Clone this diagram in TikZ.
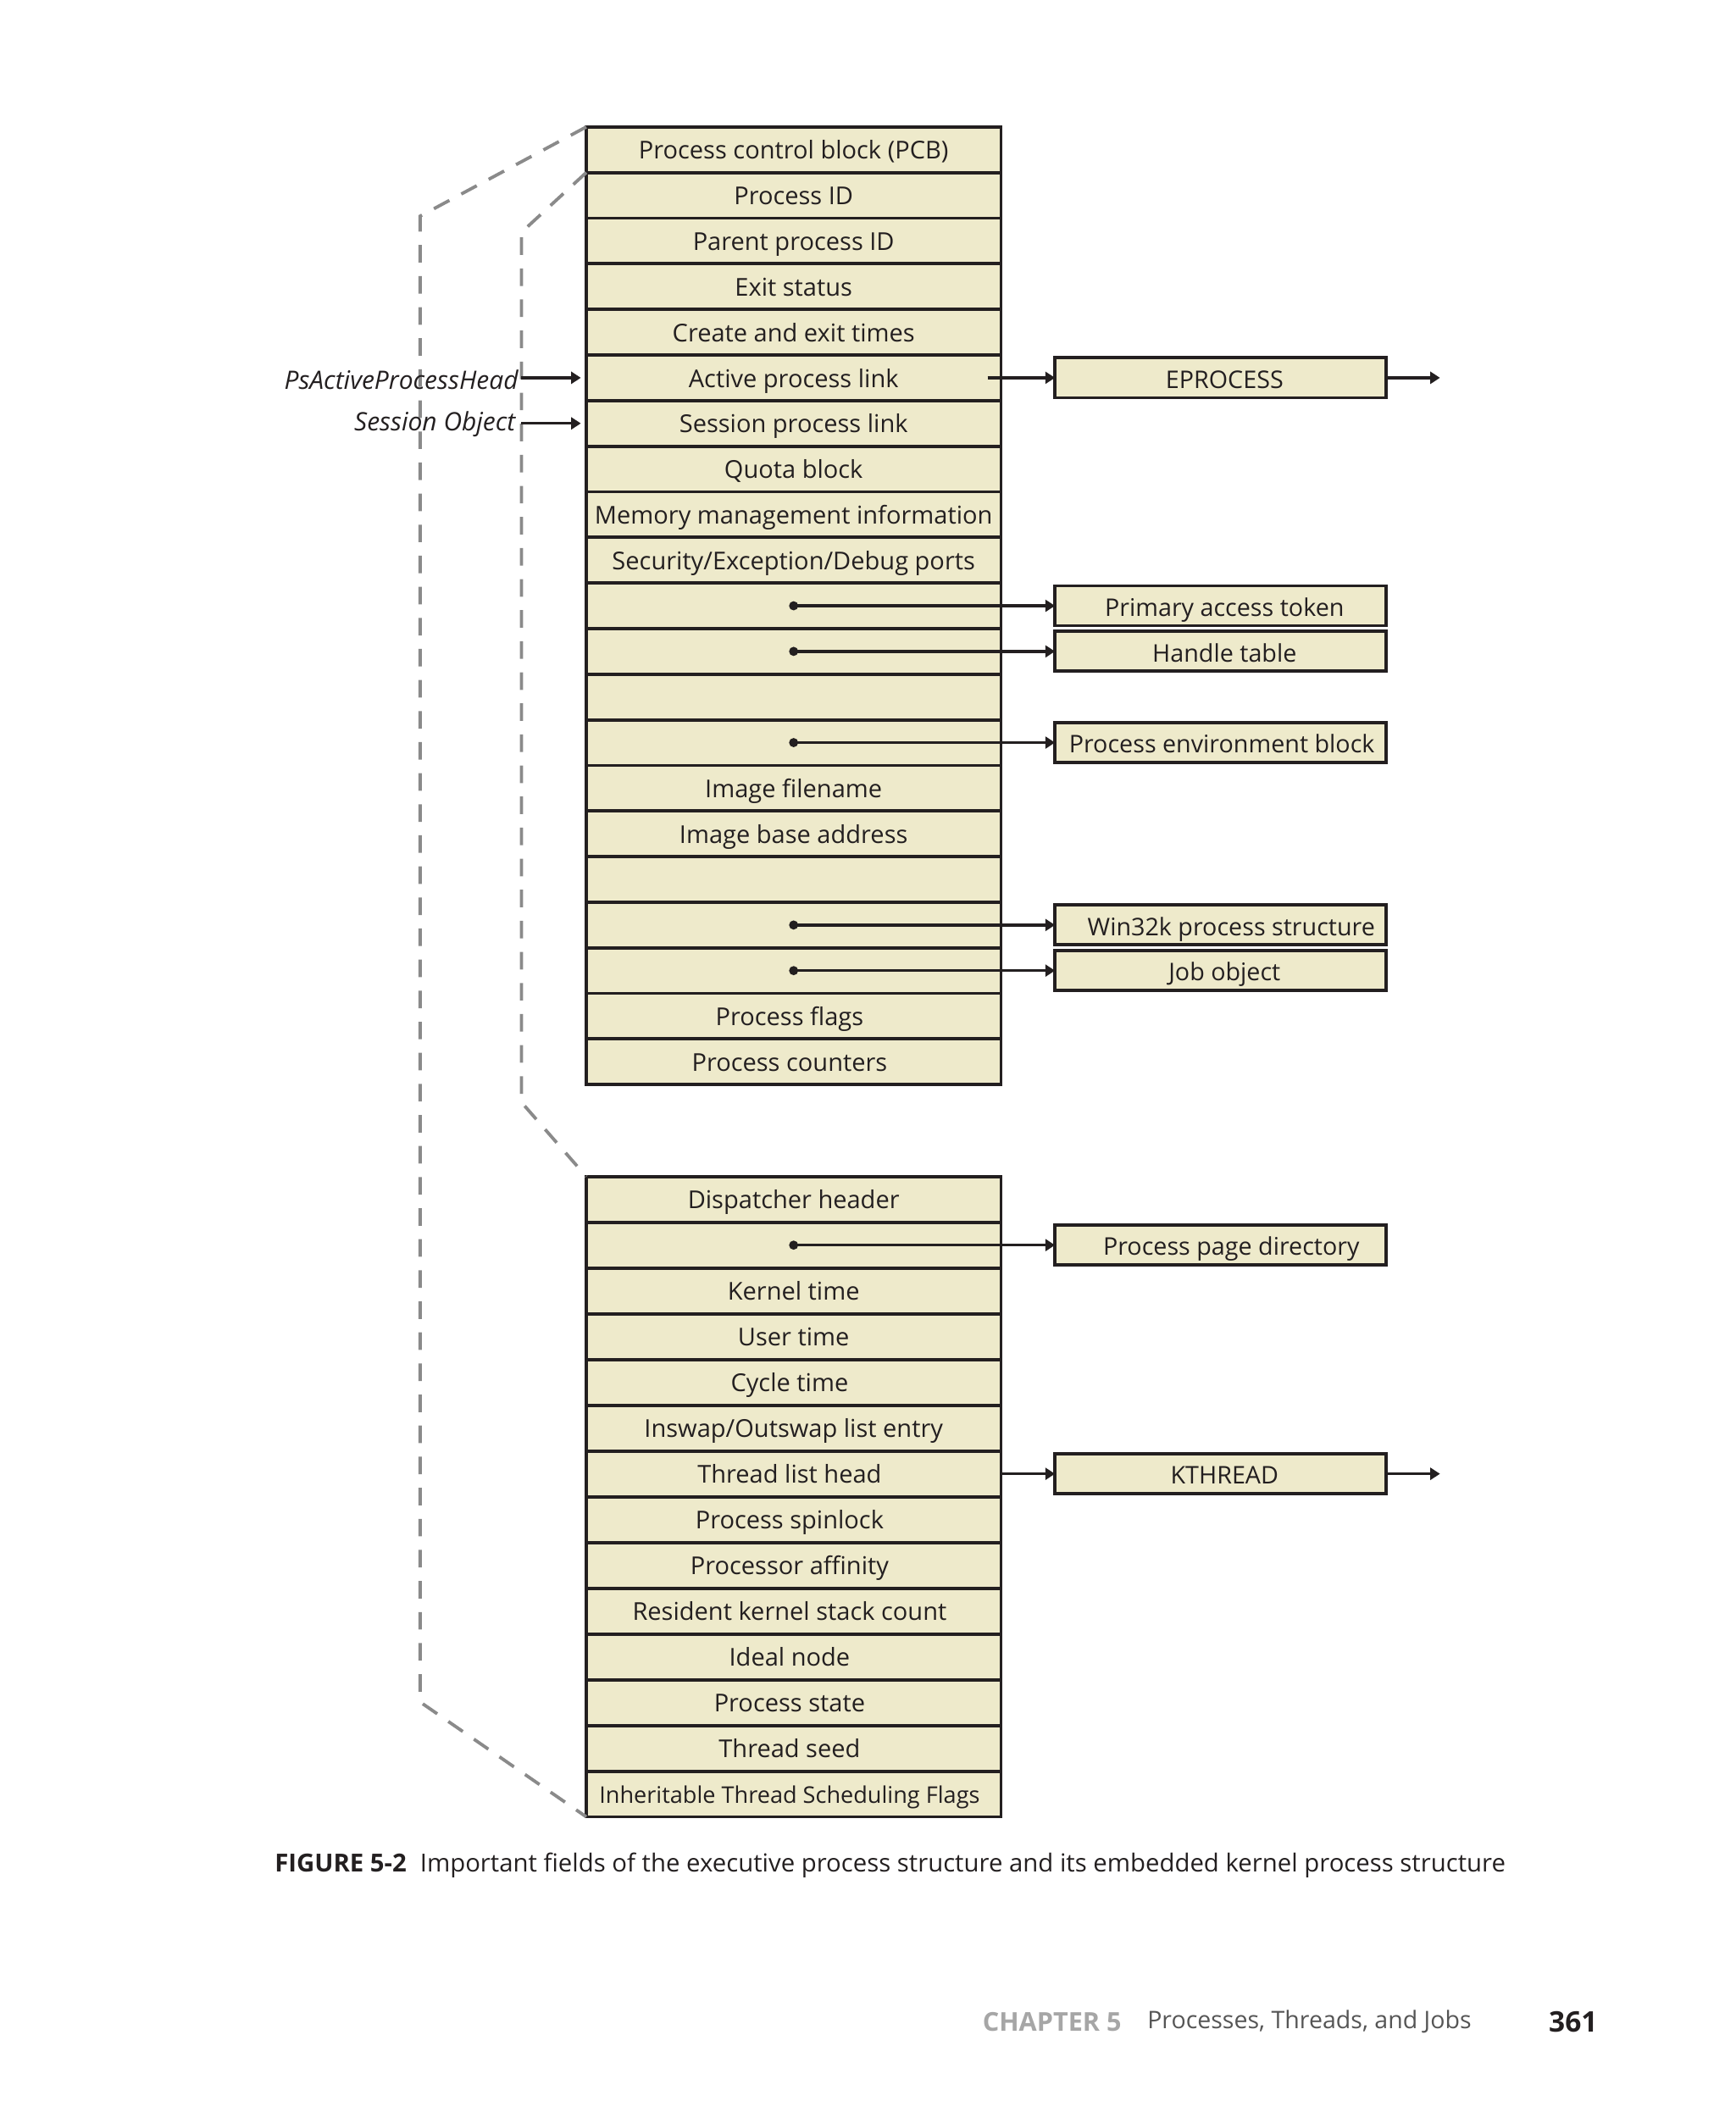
\documentclass[tikz,border=0pt]{standalone}
\usepackage{fontspec}
\setmainfont{Open Sans}
\usetikzlibrary{arrows.meta}
\definecolor{ink}{HTML}{231F20}
\definecolor{beige}{HTML}{EEEACB}
\definecolor{dashgray}{HTML}{8A8A8A}
\definecolor{chapgray}{HTML}{A6A6A6}
\definecolor{footgray}{HTML}{555555}
\tikzset{
  fld/.style={draw=ink, fill=beige, line width=1.2pt, minimum width=153.5pt,
    minimum height=16.9pt, inner sep=0pt, outer sep=0pt, text=ink,
    text height=7.6pt, text depth=0.6pt,
    font=\fontsize{9.1}{10}\selectfont},
  sl/.style={execute at end node={\kern3pt}},
  sr/.style={execute at begin node={\kern#1pt}},
  rbox/.style={draw=ink, fill=beige, line width=1.2pt, minimum width=122.5pt,
    minimum height=14.75pt, inner sep=0pt, outer sep=0pt, text=ink,
    text height=8.1pt, text depth=0.4pt,
    font=\fontsize{9.0}{10}\selectfont},
  ptr/.style={draw=ink, line width=1.05pt, -{Triangle[length=3.6pt,width=4.4pt]}},
  dot/.style={fill=ink},
  lbl/.style={anchor=east, inner sep=0pt, text=ink, text height=7.6pt, text depth=0.6pt,
    font=\fontsize{9.4}{10}\selectfont\itshape},
  guide/.style={draw=dashgray, line width=1.2pt, dash pattern=on 6.5pt off 5pt},
}
\begin{document}
\begin{tikzpicture}[x=0.5pt, y=-0.5pt]
\useasboundingbox (0,0) rectangle (1285,1568);
% guide line corners
\coordinate (o2) at (311,160);
\coordinate (o3) at (311,1260);
\coordinate (i2) at (386,172);
\coordinate (i3) at (386,816);
% top table
\node[fld] (t1) at (587.5,110.88) {Process control block (PCB)};
\node[fld] (t2) at (587.5,144.64) {Process ID};
\node[fld] (t3) at (587.5,178.40) {Parent process ID};
\node[fld] (t4) at (587.5,212.16) {Exit status};
\node[fld] (t5) at (587.5,245.92) {Create and exit times};
\node[fld] (t6) at (587.5,279.68) {Active process link};
\node[fld] (t7) at (587.5,313.44) {Session process link};
\node[fld] (t8) at (587.5,347.20) {Quota block};
\node[fld] (t9) at (587.5,380.96) {Memory management information};
\node[fld] (t10) at (587.5,414.72) {Security/Exception/Debug ports};
\node[fld] (t11) at (587.5,448.48) {};
\node[fld] (t12) at (587.5,482.24) {};
\node[fld] (t13) at (587.5,516.00) {};
\node[fld] (t14) at (587.5,549.76) {};
\node[fld] (t15) at (587.5,583.52) {Image filename};
\node[fld] (t16) at (587.5,617.28) {Image base address};
\node[fld] (t17) at (587.5,651.04) {};
\node[fld] (t18) at (587.5,684.80) {};
\node[fld] (t19) at (587.5,718.56) {};
\node[fld,sl] (t20) at (587.5,752.32) {Process flags};
\node[fld,sl] (t21) at (587.5,786.08) {Process counters};
% bottom table
\node[fld] (b1) at (587.5,887.93) {Dispatcher header};
\node[fld] (b2) at (587.5,921.79) {};
\node[fld] (b3) at (587.5,955.65) {Kernel time};
\node[fld] (b4) at (587.5,989.51) {User time};
\node[fld,sl] (b5) at (587.5,1023.37) {Cycle time};
\node[fld] (b6) at (587.5,1057.23) {Inswap/Outswap list entry};
\node[fld,sl] (b7) at (587.5,1091.09) {Thread list head};
\node[fld,sl] (b8) at (587.5,1124.95) {Process spinlock};
\node[fld,sl] (b9) at (587.5,1158.81) {Processor affinity};
\node[fld,sl] (b10) at (587.5,1192.67) {Resident kernel stack count};
\node[fld,sl] (b11) at (587.5,1226.53) {Ideal node};
\node[fld,sl] (b12) at (587.5,1260.39) {Process state};
\node[fld,sl] (b13) at (587.5,1294.25) {Thread seed};
\node[fld,sl,font=\fontsize{8.5}{10}\selectfont] (b14) at (587.5,1328.11) {Inheritable Thread Scheduling Flags};
% dashed guides
\draw[guide] (t1.north west) -- (o2) -- (o3) -- (b14.south west);
\draw[guide] (t2.north west) -- (i2) -- (i3) -- (b1.north west);
% right boxes
\node[rbox,sr=3] (epr) at (903.5,279.68) {EPROCESS};
\node[rbox,sr=3] (pat) at (903.5,448.48) {Primary access token};
\node[rbox,sr=3] (hdl) at (903.5,482.24) {Handle table};
\node[rbox,sr=1] (peb) at (903.5,549.76) {Process environment block};
\node[rbox,sr=8] (w32) at (903.5,684.80) {Win32k process structure};
\node[rbox,sr=3] (job) at (903.5,718.56) {Job object};
\node[rbox,sr=8] (ppd) at (903.5,921.79) {Process page directory};
\node[rbox,sr=3] (kth) at (903.5,1091.09) {KTHREAD};
% left labels
\node[lbl] (psa) at (384,281) {PsActiveProcessHead};
\node[lbl] (ses) at (382,312) {Session Object};
\draw[ptr, shorten <=1pt, shorten >=2pt] (psa.east |- t6.west) -- (t6.west);
\draw[ptr, shorten <=2pt, shorten >=2pt] (ses.east |- t7.west) -- (t7.west);
% pointer arrows
\draw[ptr] ([xshift=-5pt]t6.east) -- (epr.west);
\coordinate (eprout) at (1066,279.68);
\draw[ptr] (epr.east) -- (eprout);
\draw[ptr] (b7.east) -- (kth.west);
\coordinate (kthout) at (1066,1091.09);
\draw[ptr] (kth.east) -- (kthout);
\foreach \s/\d in {t11/pat, t12/hdl, t14/peb, t18/w32, t19/job, b2/ppd}{
  \fill[dot] (\s.center) circle[radius=1.7pt];
  \draw[ptr] (\s.center) -- (\d.west);
}
% caption
\node[anchor=west, inner sep=0pt, text=ink, font=\fontsize{9.2}{11}\selectfont] (cap) at (203,1381)
  {{\bfseries FIGURE 5-2}\hspace{5pt}Important fields of the executive process structure and its embedded kernel process structure};
% footer
\node[anchor=west, inner sep=0pt, text=chapgray, font=\fontsize{9.6}{11}\selectfont\bfseries] (chap) at (727,1497) {CHAPTER 5};
\node[anchor=west, inner sep=0pt, text=footgray, font=\fontsize{8.95}{11}\selectfont] (ttl) at (849,1497) {Processes, Threads, and Jobs};
\node[anchor=east, inner sep=0pt, text=ink, font=\fontsize{10.5}{11}\selectfont\bfseries] (pg) at (1183,1497) {361};
\end{tikzpicture}
\end{document}
